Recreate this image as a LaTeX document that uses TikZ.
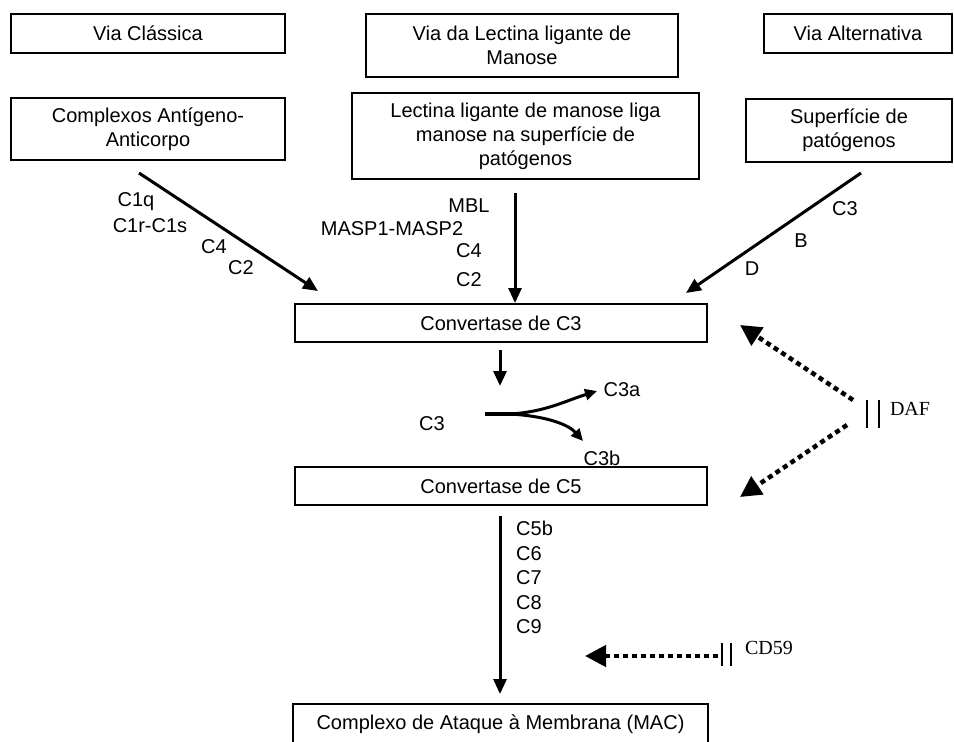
\documentclass[tikz,border=0pt]{standalone}
\usepackage{fontspec}
\setmainfont{Liberation Sans}
\newfontfamily\serifr{Liberation Serif}
\usetikzlibrary{arrows.meta}
\begin{document}
\begin{tikzpicture}[x=1pt,y=-1pt,
  box/.style={draw, line width=1.7pt, inner sep=0pt, align=center, font=\fontsize{20}{24}\selectfont},
  lbl/.style={inner sep=0pt, anchor=base, font=\fontsize{20}{24}\selectfont},
  lblw/.style={inner sep=0pt, anchor=base west, font=\fontsize{20}{24}\selectfont},
  slbl/.style={inner sep=0pt, anchor=base, font=\serifr\fontsize{20}{24}\selectfont},
  arr/.style={line width=3pt, -{Triangle[length=15pt,width=13pt]}},
  sarr/.style={line width=3pt, -{Triangle[length=12pt,width=11pt]}},
  inh/.style={line width=4.5pt, dash pattern=on 5pt off 4pt, -{Triangle[length=21pt,width=21pt]}},
  bar/.style={line width=2.8pt}]
\clip (0,0) rectangle (954,742);
\fill[white] (0,0) rectangle (954,742);

% boxes
\node[box, minimum width=274pt, minimum height=39pt] (vc) at (148,33.5) {Via Clássica};
\node[box, minimum width=312pt, minimum height=63pt] (vl) at (522,45.5) {Via da Lectina ligante de\\Manose};
\node[box, minimum width=188pt, minimum height=39pt] (va) at (858,33.5) {Via Alternativa};
\node[box, minimum width=274pt, minimum height=62pt] (cx) at (148,129) {Complexos Antígeno-\\Anticorpo};
\node[box, minimum width=347pt, minimum height=86pt] (lm) at (525.5,136) {Lectina ligante de manose liga\\manose na superfície de\\patógenos};
\node[box, minimum width=206pt, minimum height=63pt] (sp) at (849,130.5) {Superfície de\\patógenos};
\node[box, minimum width=412pt, minimum height=38pt] (c3c) at (501,323) {Convertase de C3};
\node[box, minimum width=412pt, minimum height=38pt] (c5c) at (501,486) {Convertase de C5};
\node[box, minimum width=415pt, minimum height=39.5pt] (mac) at (500.5,723.75) {Complexo de Ataque à Membrana (MAC)};

% pathway arrows
\coordinate (a1s) at (139,173); \coordinate (a1e) at (318,291);
\coordinate (a2s) at (515,193); \coordinate (a2e) at (515,303);
\coordinate (a3s) at (861,173); \coordinate (a3e) at (686,293);
\draw[arr] (a1s) -- (a1e);
\draw[arr] (a2s) -- (a2e);
\draw[arr] (a3s) -- (a3e);

% labels classical
\node[lbl] (l1) at (136,206) {C1q};
\node[lbl] (l2) at (150,232) {C1r-C1s};
\node[lbl] (l3) at (214,253) {C4};
\node[lbl] (l4) at (241,274) {C2};
% labels lectin
\node[lbl] (m1) at (469,212) {MBL};
\node[lbl] (m2) at (392,235) {MASP1-MASP2};
\node[lbl] (m3) at (469,257) {C4};
\node[lbl] (m4) at (469,286) {C2};
% labels alternative
\node[lbl] (n1) at (845,215) {C3};
\node[lbl] (n2) at (801,247) {B};
\node[lbl] (n3) at (752,275) {D};

% C3 cleavage
\coordinate (s1) at (500,350); \coordinate (s2) at (500,386);
\draw[arr] (s1) -- (s2);
\node[lbl] (c3l) at (432,430) {C3};
\node[lbl] (c3a) at (622,396) {C3a};
\node[lbl] (c3b) at (602,465) {C3b};
\coordinate (sp0) at (485,414); \coordinate (sp1) at (517,414);
\coordinate (ta) at (597,391); \coordinate (tb) at (583,441);
\draw[line width=4pt] (sp0) -- (sp1);
\draw[sarr] (510,414) .. controls (545,412) and (565,401) .. (ta);
\draw[sarr] (510,414) .. controls (545,416) and (568,424) .. (tb);

% C5 to MAC
\coordinate (v1) at (500,516); \coordinate (v2) at (500,694);
\draw[arr] (v1) -- (v2);
\node[lblw] (k1) at (516,535) {C5b};
\node[lblw] (k2) at (516,560) {C6};
\node[lblw] (k3) at (516,584) {C7};
\node[lblw] (k4) at (516,609) {C8};
\node[lblw] (k5) at (516,633) {C9};

% DAF
\coordinate (d1) at (853,400); \coordinate (d1t) at (740,325);
\coordinate (d2) at (847,425); \coordinate (d2t) at (740,497);
\draw[inh] (d1) -- (d1t);
\draw[inh] (d2) -- (d2t);
\draw[bar] (867,400) -- (867,428);
\draw[bar] (879,400) -- (879,428);
\node[slbl] (daf) at (910,415) {DAF};

% CD59
\coordinate (e1) at (718,656); \coordinate (e1t) at (585,656);
\draw[inh] (e1) -- (e1t);
\draw[bar] (722,643) -- (722,666);
\draw[bar] (731,643) -- (731,666);
\node[slbl] (cd) at (769,654) {CD59};
\end{tikzpicture}
\end{document}
